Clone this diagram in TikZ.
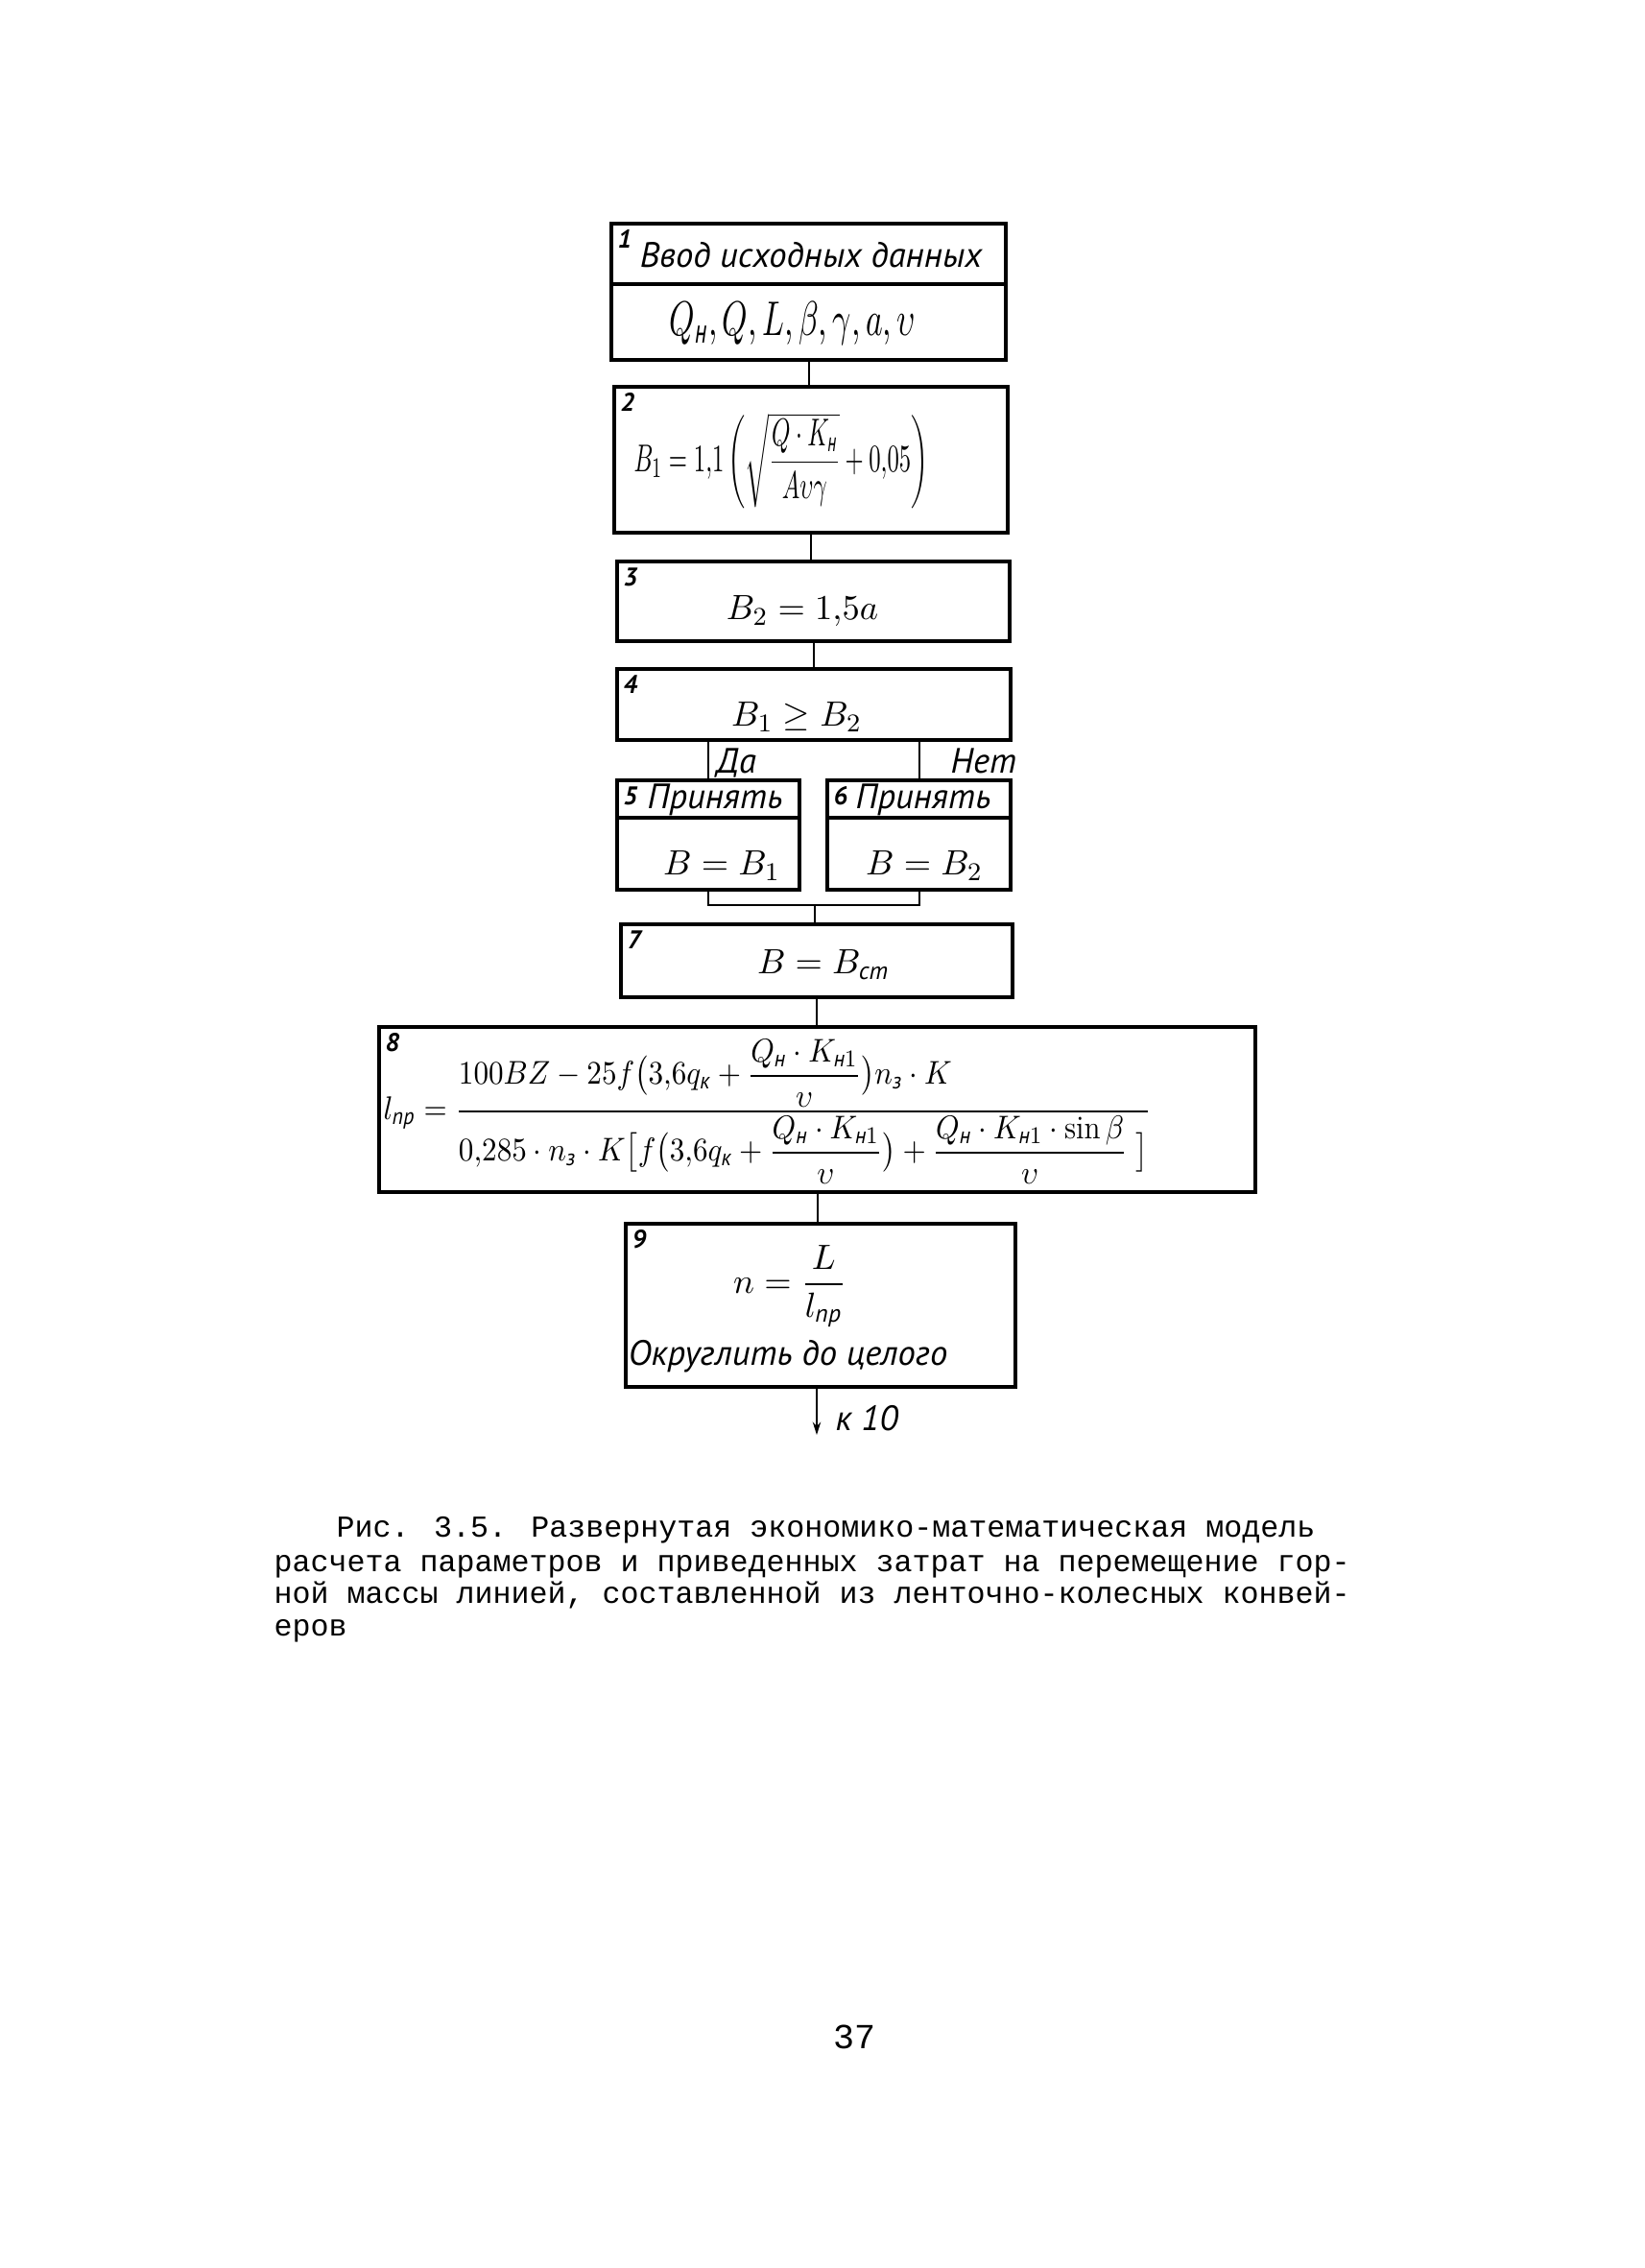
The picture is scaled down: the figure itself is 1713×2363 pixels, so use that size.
\documentclass[tikz,border=0pt]{standalone}
\usepackage{amsmath}
\usepackage{fontspec}
\newfontfamily\hand{PT Sans}
\newfontfamily\tw{Liberation Mono}
\usetikzlibrary{arrows.meta}
\newcommand\myNum{100BZ-25f\bigl(3{,}6q_{\text{к}}+\dfrac{Q_{\text{н}}\cdot K_{\text{н}1}}{\upsilon}\bigr)n_{\text{з}}\cdot K}
\newcommand\myDen{0{,}285\cdot n_{\text{з}}\cdot K\bigl[f\bigl(3{,}6q_{\text{к}}+\dfrac{Q_{\text{н}}\cdot K_{\text{н}1}}{\upsilon}\bigr)+\dfrac{Q_{\text{н}}\cdot K_{\text{н}1}\cdot\sin\beta}{\upsilon}\;\bigr]}
\begin{document}
\begin{tikzpicture}[x=0.3pt,y=-0.3pt,
  bx/.style 2 args={draw, line width=1.1pt, inner sep=0pt, outer sep=0pt,
     minimum width=#1*0.3pt, minimum height=#2*0.3pt},
  divl/.style={line width=1.1pt},
  wire/.style={line width=0.6pt},
  hw/.style={font=\hand\itshape\fontsize{11}{13}\selectfont, inner sep=0pt},
  numtxt/.style={font=\hand\itshape\bfseries\fontsize{8}{9}\selectfont, inner sep=0pt, anchor=north west},
  captxt/.style={font=\tw\fontsize{9.5}{11}\selectfont, inner sep=0pt, anchor=base west}]
\fill[white] (0,0) rectangle (1713,2363);
\useasboundingbox (0,0) rectangle (1713,2363);

% boxes
\node[bx={411}{142}] (b1) at (842.5,304) {};
\node[bx={410}{152}] (b2) at (845,479) {};
\node[bx={409}{83}]  (b3) at (847.5,626.5) {};
\node[bx={410}{74}]  (b4) at (848,734) {};
\node[bx={190}{114}] (b5) at (738,870) {};
\node[bx={191}{114}] (b6) at (957.5,870) {};
\node[bx={408}{76}]  (b7) at (851,1001) {};
\node[bx={913}{172}] (b8) at (851.5,1156) {};
\node[bx={406}{170}] (b9) at (855,1360) {};

% dividers
\draw[divl] (b1.west |- 0,296) -- (b1.east |- 0,296);
\draw[divl] (b5.west |- 0,852) -- (b5.east |- 0,852);
\draw[divl] (b6.west |- 0,852) -- (b6.east |- 0,852);

% numbers
\node[numtxt] (n1) at ([shift={(6,6)}]b1.north west) {1};
\node[numtxt] (n2) at ([shift={(6,6)}]b2.north west) {2};
\node[numtxt] (n3) at ([shift={(6,6)}]b3.north west) {3};
\node[numtxt] (n4) at ([shift={(6,6)}]b4.north west) {4};
\node[numtxt] (n5) at ([shift={(6,6)}]b5.north west) {5};
\node[numtxt] (n6) at ([shift={(6,6)}]b6.north west) {6};
\node[numtxt] (n7) at ([shift={(6,6)}]b7.north west) {7};
\node[numtxt] (n8) at ([shift={(6,6)}]b8.north west) {8};
\node[numtxt] (n9) at ([shift={(6,6)}]b9.north west) {9};

% texts
\node[hw] (t1a) at (845,266) {Ввод исходных данных};
\node[hw] (t1b) at (826,337) {\resizebox*{77pt}{13.5pt}{$Q_{\text{н}},Q,L,\beta,\gamma,a,\upsilon$}};
\node[hw, anchor=west] (t2) at (660,480) {\resizebox*{92pt}{30pt}{$B_1=1{,}1\left(\sqrt{\dfrac{Q\cdot K_{\text{н}}}{A\upsilon\gamma}}+0{,}05\right)$}};
\node[hw] (t3) at (836,637) {$B_2=1{,}5a$};
\node[hw] (t4) at (830,747) {$B_1\geq B_2$};
\node[hw] (t5a) at (745,833) {Принять};
\node[hw] (t5b) at (752,902) {$B=B_1$};
\node[hw] (t6a) at (962,833) {Принять};
\node[hw] (t6b) at (963,902) {$B=B_2$};
\node[hw] (t7) at (858,1005) {$B=B_{\text{ст}}$};
\node[hw, anchor=west] (t8) at (399,1158) {\resizebox*{240pt}{45pt}{$l_{\text{пр}}=\dfrac{\rlap{$\displaystyle\myNum$}\hphantom{\myDen}}{\myDen}$}};
\node[hw] (t9a) at (823,1340) {$n=\dfrac{L}{l_{\text{пр}}}$};
\node[hw] (t9b) at (821,1413) {Округлить до целого};

% connectors
\draw[wire] (b1.south) -- (b1.south |- b2.north);
\draw[wire] (b2.south) -- (b2.south |- b3.north);
\draw[wire] (b3.south) -- (b3.south |- b4.north);
\draw[wire] (b4.south -| b5.north) -- (b5.north);
\draw[wire] (b4.south -| b6.north) -- (b6.north);
\node[hw, anchor=west] (da) at (746,795) {Да};
\node[hw, anchor=west] (net) at (990,793) {Нет};
\coordinate (m) at (849,943);
\draw[wire] (b5.south) |- (m) -| (b6.south);
\draw[wire] (m) -- (m |- b7.north);
\draw[wire] (b7.south) -- (b7.south |- b8.north);
\draw[wire] (b8.south) -- (b8.south |- b9.north);
\coordinate (k10) at (851,1495);
\draw[wire, -{Stealth[length=4pt,width=2.5pt]}] (b9.south -| k10) -- (k10);
\node[hw, anchor=west] (k10t) at (870,1478) {к 10};

% caption
\node[captxt] (c1) at (350,1601) {Рис. 3.5. Развернутая экономико-математическая модель};
\node[captxt] (c2) at (285,1637) {расчета параметров и приведенных затрат на перемещение гор-};
\node[captxt] (c3) at (285,1670) {ной массы линией, составленной из ленточно-колесных конвей-};
\node[captxt] (c4) at (285,1704) {еров};
\node[font=\tw\fontsize{11}{13}\selectfont, inner sep=0pt] (pg) at (890,2122) {37};
\end{tikzpicture}
\end{document}
